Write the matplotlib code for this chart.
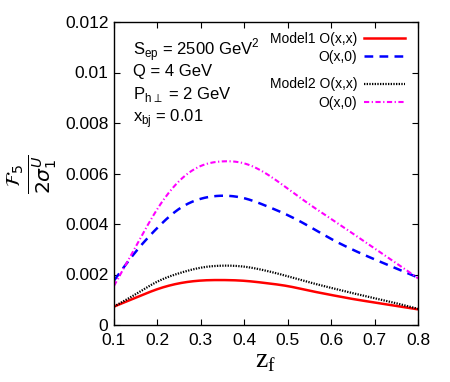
import numpy as np
import matplotlib
matplotlib.use("Agg")
import matplotlib.pyplot as plt

z = [0.10, 0.15, 0.20, 0.25, 0.30, 0.35, 0.40, 0.45, 0.50, 0.55, 0.60, 0.65, 0.70, 0.75, 0.80]
m1_xx = [0.00073, 0.00108, 0.00142, 0.00165, 0.00176, 0.00178, 0.00175, 0.00166, 0.00154, 0.00136,
         0.00119, 0.00103, 0.00089, 0.00075, 0.00062]
m1_x0 = [0.00176, 0.00290, 0.00385, 0.00460, 0.00500, 0.00512, 0.00502, 0.00472, 0.00435, 0.00390,
         0.00341, 0.00298, 0.00260, 0.00224, 0.00188]
m2_xx = [0.00073, 0.00122, 0.00172, 0.00205, 0.00227, 0.00235, 0.00231, 0.00215, 0.00193, 0.00169,
         0.00147, 0.00126, 0.00106, 0.00086, 0.00064]
m2_x0 = [0.00155, 0.00310, 0.00460, 0.00570, 0.00630, 0.00648, 0.00640, 0.00600, 0.00540, 0.00478,
         0.00420, 0.00362, 0.00303, 0.00245, 0.00185]

xticks = [0.1, 0.2, 0.3, 0.4, 0.5, 0.6, 0.7, 0.8]
xticklabels = ["0.1", "0.2", "0.3", "0.4", "0.5", "0.6", "0.7", "0.8"]
yticks = [0, 0.002, 0.004, 0.006, 0.008, 0.01, 0.012]
yticklabels = ["0", "0.002", "0.004", "0.006", "0.008", "0.01", "0.012"]
legend_labels = ["Model1 O(x,x)", "O(x,0)", "Model2 O(x,x)", "O(x,0)"]

plt.rcParams['font.family'] = ['Liberation Sans', 'DejaVu Sans']

fig = plt.figure(figsize=(4.5, 3.82), dpi=100)
ax = fig.add_axes([114/450, 1-325/382, (418-114)/450, (325-22)/382])

zz = np.linspace(0.1, 0.8, 300)

def spline(y):
    xs = np.array(z); ys = np.array(y)
    n = len(xs); h = np.diff(xs)
    A = np.zeros((n, n)); b = np.zeros(n)
    A[0, 0] = A[-1, -1] = 1
    for i in range(1, n-1):
        A[i, i-1] = h[i-1]; A[i, i] = 2*(h[i-1]+h[i]); A[i, i+1] = h[i]
        b[i] = 3*((ys[i+1]-ys[i])/h[i] - (ys[i]-ys[i-1])/h[i-1])
    c = np.linalg.solve(A, b)
    out = np.empty_like(zz)
    for k, xv in enumerate(zz):
        i = min(max(np.searchsorted(xs, xv) - 1, 0), n-2)
        dx = xv - xs[i]
        bb = (ys[i+1]-ys[i])/h[i] - h[i]*(2*c[i]+c[i+1])/3
        d = (c[i+1]-c[i])/(3*h[i])
        out[k] = ys[i] + bb*dx + c[i]*dx**2 + d*dx**3
    return out

l1, = ax.plot(zz, spline(m1_xx), color='#ff0000', lw=1.8)
l2, = ax.plot(zz, spline(m1_x0), color='#0000ff', lw=1.8, dashes=(3.5, 2.5))
l3, = ax.plot(zz, spline(m2_xx), color='black', lw=1.6, dashes=(0.6, 0.6))
l4, = ax.plot(zz, spline(m2_x0), color='#ff00ff', lw=1.5, dashes=(2.5, 1.2, 0.6, 1.2))

ax.set_xlim(0.1, 0.8)
ax.set_ylim(0, 0.012)
ax.set_xticks(xticks)
ax.set_xticklabels(xticklabels)
ax.set_yticks(yticks)
ax.set_yticklabels(yticklabels)
ax.tick_params(direction='in', length=4, width=0.8, top=True, right=True,
               labelsize=12.5, colors='black')
ax.tick_params(axis='x', pad=5.5)
ax.tick_params(axis='y', pad=4)
for s in ax.spines.values():
    s.set_linewidth(1.0)

legkw = dict(loc='upper right', frameon=False, markerfirst=False, fontsize=10,
             handlelength=2.9, handletextpad=0.5, labelspacing=0.3, borderpad=0.2)
leg1 = ax.legend([l1, l2], legend_labels[:2], bbox_to_anchor=(0.988, 1.0), **legkw)
ax.add_artist(leg1)
ax.legend([l3, l4], legend_labels[2:], bbox_to_anchor=(0.988, 0.849), **legkw)

tx = 0.062
ax.text(tx, 0.908, r'S$_\mathregular{ep}$ = 2500 GeV$^\mathregular{2}$', transform=ax.transAxes,
        fontsize=12, va='center', ha='left')
ax.text(tx, 0.836, 'Q = 4 GeV', transform=ax.transAxes, fontsize=12, va='center', ha='left')
ax.text(tx, 0.760, r'P$_{\mathregular{h}\perp}$ = 2 GeV', transform=ax.transAxes,
        fontsize=12, va='center', ha='left')
ax.text(tx, 0.683, r'x$_\mathregular{bj}$ = 0.01', transform=ax.transAxes,
        fontsize=12, va='center', ha='left')

fig.text(32/450, 1-174/382, r'$\frac{\mathcal{F}_5}{2\sigma_1^U}$', rotation=90,
         fontsize=21, ha='center', va='center')
fig.text(266/450, 1-362/382, r'z$_\mathregular{f}$', fontsize=20, ha='center', va='center',
         family='Liberation Serif')

fig.savefig('out.png', dpi=100)
